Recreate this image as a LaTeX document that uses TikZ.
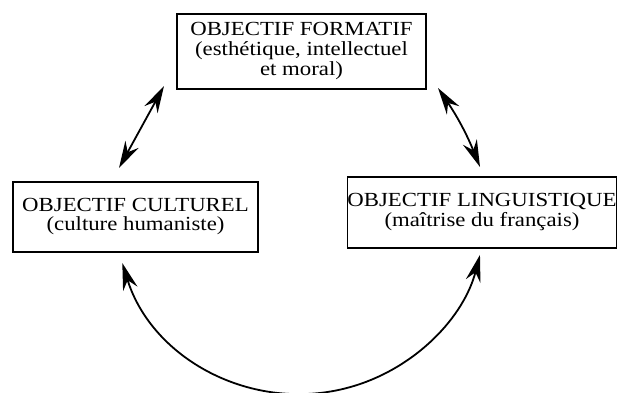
\documentclass[tikz,border=0pt]{standalone}
\usepackage{fontspec}
\setmainfont{Liberation Serif}[FakeStretch=1.14]
\usetikzlibrary{arrows.meta}

\begin{document}
\begin{tikzpicture}[x=1pt, y=1pt,
	>={Stealth[length=27pt,width=15pt,inset=9pt]},
	box/.style={draw, line width=1.3pt, inner sep=0pt, align=center, font=\fontsize{20}{19.5}\selectfont},
	link/.style={<->, line width=1.8pt}]
	\useasboundingbox (0,0) rectangle (618,392);
	\clip (0,0) rectangle (618,392);
	% the three objectives
	\node[box, minimum width=249, minimum height=75] (formatif) at (301.5,340.5) {\raisebox{-3pt}{\begin{tabular}{@{}c@{}}OBJECTIF FORMATIF\\(esthétique, intellectuel\\et moral)\end{tabular}}};
	\node[box, minimum width=245, minimum height=70] (culturel) at (135.5,175) {\raisebox{-2pt}{\begin{tabular}{@{}c@{}}OBJECTIF CULTUREL\\(culture humaniste)\end{tabular}}};
	\node[box, minimum width=269, minimum height=71] (linguistique) at (482,179.5) {\begin{tabular}{@{}c@{}}OBJECTIF LINGUISTIQUE\\(maîtrise du français)\end{tabular}};
	% free ends of the arrows
	\coordinate (fc) at (164,306);
	\coordinate (cf) at (119,224);
	\coordinate (fl) at (438,304);
	\coordinate (lf) at (480,225);
	\coordinate (cl) at (122.3,129);
	\draw[link] (fc) -- (cf);
	\draw[link] (fl) to[bend left=6] (lf);
	\draw[link] (cl) arc[start angle=197.2, end angle=345.4, radius=186];
\end{tikzpicture}
\end{document}
